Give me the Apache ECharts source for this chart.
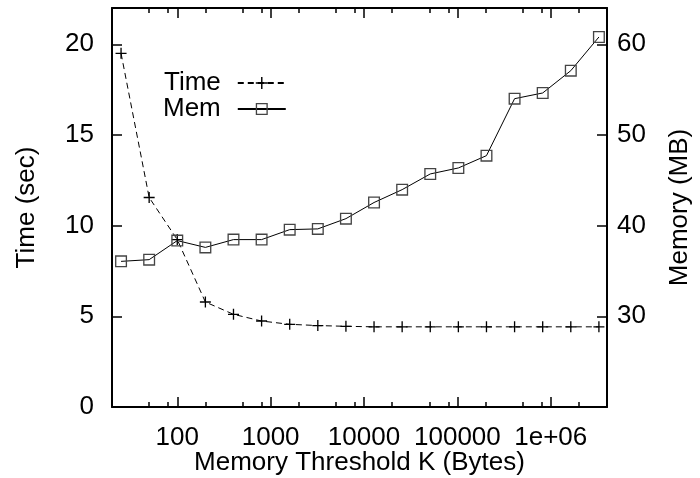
<!DOCTYPE html>
<html>
<head>
<meta charset="utf-8">
<script src="https://cdn.jsdelivr.net/npm/echarts@6/dist/echarts.min.js"></script>
<style>
html,body{margin:0;padding:0;background:#fff;}
#main{width:700px;height:478px;}
</style>
</head>
<body>
<div id="main"></div>
<script>
/* data */
var thresholds = [25, 50, 100, 200, 400, 800, 1600, 3200, 6400, 12800, 25600, 51200,
	102400, 204800, 409600, 819200, 1638400, 3276800];
var timeSec = [19.5, 11.55, 9.23, 5.79, 5.11, 4.74, 4.56, 4.49, 4.45, 4.42, 4.42, 4.42,
	4.42, 4.42, 4.42, 4.42, 4.42, 4.42];
var memMB = [36.06, 36.25, 38.35, 37.6, 38.46, 38.46, 39.56, 39.64, 40.77, 42.55, 43.97, 45.7,
	46.36, 47.72, 54.0, 54.63, 57.09, 60.8];

/* ticks */
var xMajorTicks = [100, 1000, 10000, 100000, 1000000];
var xMinorTicks = [20, 50, 80, 200, 500, 800, 2000, 5000, 8000, 20000, 50000, 80000,
	200000, 500000, 800000, 2000000];
var timeTicks = [0, 5, 10, 15, 20];
var memTicks = [30, 40, 50, 60];

var FONT = 'Liberation Sans';
var FS = 26;

function pairs(xs, ys){
	var out = [];
	for (var i = 0; i < xs.length; i++) {
		out.push([xs[i], ys[i]]);
	}
	return out;
}

function fmtX(v){
	if (v >= 1000000) {
		var e = Math.round(Math.log(v) / Math.LN10);
		var m = v / Math.pow(10, e);
		return m + 'e+' + (e < 10 ? '0' + e : e);
	}
	return String(v);
}

/* x axis copies: bottom/top, major/minor ticks */
function xAx(pos, ticks, len, labels, line){
	return {
		type : 'log',
		logBase : 10,
		min : 20,
		max : 4000000,
		position : pos,
		axisLine : { show : line, onZero : false, lineStyle : { color : '#000', width : 2 } },
		axisTick : { show : true, inside : true, length : len, customValues : ticks,
			lineStyle : { color : '#000', width : 1.5 } },
		axisLabel : labels ? {
			show : true, customValues : xMajorTicks, formatter : fmtX, margin : 18,
			color : '#000', fontFamily : FONT, fontSize : FS
		} : { show : false },
		splitLine : { show : false },
		minorTick : { show : false },
		name : labels ? 'Memory Threshold K (Bytes)' : '',
		nameLocation : 'middle',
		nameGap : 43,
		nameMoveOverlap : false,
		nameTextStyle : { color : '#000', fontFamily : FONT, fontSize : FS }
	};
}

var crossPath = 'path://M0,4.4h10v1.2h-10z M4.4,0h1.2v10h-1.2z';
var squarePath = 'path://M0,0h10v10h-10z M1.1,1.1v7.8h7.8v-7.8z';

var chart = echarts.init(document.getElementById('main'));
var option = {
	animation : false,
	backgroundColor : '#fff',
	textStyle : { fontFamily : FONT },
	grid : {
		left : 112,
		right : 93,
		top : 8,
		bottom : 71,
		containLabel : false,
		outerBoundsMode : 'none'
	},
	legend : {
		orient : 'vertical',
		left : 163,
		top : 70,
		padding : 0,
		align : 'right',
		itemWidth : 48,
		itemHeight : 15,
		itemGap : 0,
		textStyle : { color : '#000', fontFamily : FONT, fontSize : FS, padding : [0, 12, 0, 0] },
		data : ['Time', 'Mem']
	},
	xAxis : [
		xAx('bottom', xMajorTicks, 10, true, true),
		xAx('bottom', xMinorTicks, 5, false, false),
		xAx('top', xMajorTicks, 10, false, true),
		xAx('top', xMinorTicks, 5, false, false)
	],
	yAxis : [ {
		type : 'value',
		min : 0,
		max : 22,
		interval : 5,
		position : 'left',
		axisLine : { show : true, lineStyle : { color : '#000', width : 2 } },
		axisTick : { show : true, inside : true, length : 10, customValues : timeTicks,
			lineStyle : { color : '#000', width : 1.5 } },
		axisLabel : { customValues : timeTicks, margin : 18, color : '#000',
			fontFamily : FONT, fontSize : FS },
		splitLine : { show : false },
		name : 'Time (sec)',
		nameLocation : 'middle',
		nameRotate : 90,
		nameGap : 72,
		nameMoveOverlap : false,
		nameTextStyle : { color : '#000', fontFamily : FONT, fontSize : FS }
	}, {
		type : 'value',
		min : 20,
		max : 64,
		interval : 10,
		position : 'right',
		axisLine : { show : true, lineStyle : { color : '#000', width : 2 } },
		axisTick : { show : true, inside : true, length : 10, customValues : memTicks,
			lineStyle : { color : '#000', width : 1.5 } },
		axisLabel : { customValues : memTicks, margin : 10, color : '#000',
			fontFamily : FONT, fontSize : FS },
		splitLine : { show : false },
		name : 'Memory (MB)',
		nameLocation : 'middle',
		nameRotate : 90,
		nameGap : 60,
		nameMoveOverlap : false,
		nameTextStyle : { color : '#000', fontFamily : FONT, fontSize : FS }
	} ],
	series : [ {
		name : 'Time',
		type : 'line',
		xAxisIndex : 0,
		yAxisIndex : 0,
		data : pairs(thresholds, timeSec),
		symbol : crossPath,
		symbolSize : 11,
		itemStyle : { color : '#000' },
		lineStyle : { color : '#000', width : 1, type : [6, 4] }
	}, {
		name : 'Mem',
		type : 'line',
		xAxisIndex : 0,
		yAxisIndex : 1,
		data : pairs(thresholds, memMB),
		symbol : squarePath,
		symbolSize : 12,
		itemStyle : { color : '#444' },
		lineStyle : { color : '#000', width : 1 }
	} ]
};
chart.setOption(option);
</script>
</body>
</html>
